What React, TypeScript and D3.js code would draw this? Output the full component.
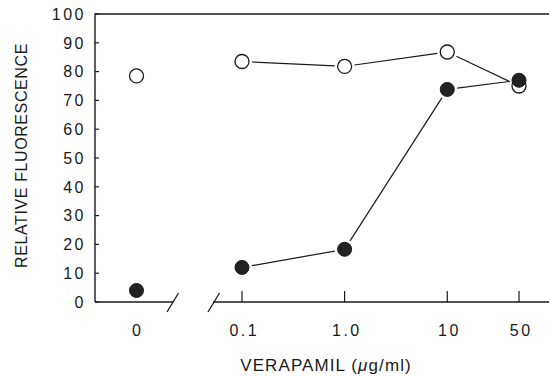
import React from 'react';
import * as d3 from 'd3';

// verapamil concentrations (ug/ml), log part of the axis
const concentrations = [0.1, 1, 10, 50];
const concLabels = ['0.1', '1.0', '10', '50'];
const zeroCategory = ['0'];

// open circles
const openZero = [78.5];
const openValues = [83.5, 81.8, 86.8, 75];
// filled circles
const filledZero = [4];
const filledValues = [12, 18.3, 73.8, 77];

const yTicks = [0, 10, 20, 30, 40, 50, 60, 70, 80, 90, 100];

const W = 550;
const H = 377;
const FONT = '"Liberation Sans", Arial, Helvetica, sans-serif';

const App = () => {
  const left = 95;
  const right = 549;
  const top = 14;
  const bottom = 302;
  const r = 7;
  const tickFont = 16;
  const tickSpacing = 2.5;

  const y = d3.scaleLinear().domain([0, 100]).range([bottom, top]);
  const xZero = d3.scalePoint<string>().domain(zeroCategory).range([95, 178]).padding(0.5);
  const xLog = d3.scaleLog().domain([0.1, 50]).range([242, 519]);

  // line pieces between neighbouring points, stopped short of the circles
  const segments = (vals: number[]) => {
    const pts = concentrations.map((c, i) => [xLog(c), y(vals[i])]);
    const segs: number[][] = [];
    for (let i = 0; i < pts.length - 1; i++) {
      const [x1, y1] = pts[i];
      const [x2, y2] = pts[i + 1];
      const len = Math.hypot(x2 - x1, y2 - y1);
      const g = r + 3;
      if (len <= 2 * g) continue;
      const ux = (x2 - x1) / len;
      const uy = (y2 - y1) / len;
      segs.push([x1 + ux * g, y1 + uy * g, x2 - ux * g, y2 - uy * g]);
    }
    return segs;
  };

  const line = d3.line();
  const ink = '#1a1a1a';

  return (
    <div style={{ position: 'absolute', left: 0, top: 0 }}>
      <svg width={W} height={H} style={{ display: 'block', background: '#fff' }} fontFamily={FONT}>
        {/* frame: left axis, top line, broken bottom axis */}
        <path d={line([[left, bottom], [left, top], [right, top]]) ?? ''} fill="none" stroke={ink} strokeWidth={1.4} />
        <path d={line([[left, bottom], [173, bottom]]) ?? ''} stroke={ink} strokeWidth={1.4} />
        <path d={line([[213, bottom], [right, bottom]]) ?? ''} stroke={ink} strokeWidth={1.4} />
        {/* break marks */}
        <path d={line([[178.5, 293], [167, 312]]) ?? ''} stroke={ink} strokeWidth={1.3} />
        <path d={line([[219.5, 293], [208, 312]]) ?? ''} stroke={ink} strokeWidth={1.3} />

        {/* y ticks */}
        {yTicks.map((t) => (
          <g key={t}>
            <line x1={left} x2={left + 4} y1={y(t)} y2={y(t)} stroke={ink} strokeWidth={1.2} />
            <text x={86} y={y(t)} dy="0.36em" textAnchor="end" fontSize={tickFont} letterSpacing={tickSpacing} fill={ink}>
              {t}
            </text>
          </g>
        ))}

        {/* x ticks */}
        {concentrations.map((c, i) => (
          <g key={c}>
            <line x1={xLog(c)} x2={xLog(c)} y1={bottom} y2={bottom - 11} stroke={ink} strokeWidth={1.2} />
            <text
              x={xLog(c) + tickSpacing / 2 + 1}
              y={330}
              dy="0.36em"
              textAnchor="middle"
              fontSize={tickFont}
              letterSpacing={tickSpacing}
              fill={ink}
            >
              {concLabels[i]}
            </text>
          </g>
        ))}
        {zeroCategory.map((z) => (
          <text key={z} x={xZero(z)} y={330} dy="0.36em" textAnchor="middle" fontSize={tickFont} fill={ink}>
            {z}
          </text>
        ))}

        {/* axis titles */}
        <text x={326} y={365} dy="0.36em" textAnchor="middle" fontSize={17} letterSpacing={1.1} fill={ink}>
          VERAPAMIL (<tspan fontStyle="italic">μ</tspan>g/ml)
        </text>
        <text
          transform={`translate(21,${155.5}) rotate(-90)`}
          textAnchor="middle"
          dy="0.36em"
          fontSize={16}
          letterSpacing={0.6}
          fill={ink}
        >
          RELATIVE FLUORESCENCE
        </text>

        {/* connecting lines */}
        {[...segments(openValues), ...segments(filledValues)].map((s, i) => (
          <path key={i} d={line([[s[0], s[1]], [s[2], s[3]]]) ?? ''} stroke={ink} strokeWidth={1.2} />
        ))}

        {/* open circles */}
        {openZero.map((v, i) => (
          <circle key={'oz' + i} cx={xZero(zeroCategory[0])} cy={y(v)} r={r} fill="#fff" stroke={ink} strokeWidth={1.3} />
        ))}
        {openValues.map((v, i) => (
          <circle key={'o' + i} cx={xLog(concentrations[i])} cy={y(v)} r={r} fill="#fff" stroke={ink} strokeWidth={1.3} />
        ))}

        {/* filled circles */}
        {filledZero.map((v, i) => (
          <circle key={'fz' + i} cx={xZero(zeroCategory[0])} cy={y(v)} r={r} fill="#222" stroke={ink} strokeWidth={1} />
        ))}
        {filledValues.map((v, i) => (
          <circle key={'f' + i} cx={xLog(concentrations[i])} cy={y(v)} r={r} fill="#222" stroke={ink} strokeWidth={1} />
        ))}
      </svg>
    </div>
  );
};

export default App;
